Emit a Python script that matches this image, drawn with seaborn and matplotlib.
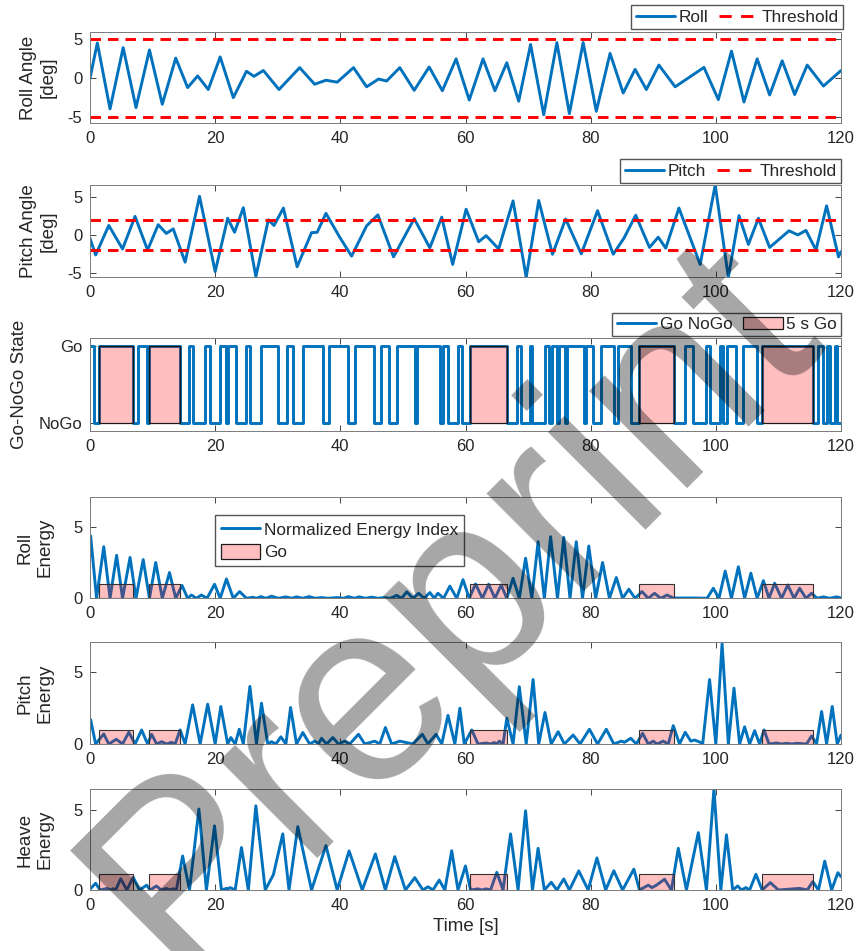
import numpy as np
import matplotlib
matplotlib.use('Agg')
import matplotlib.pyplot as plt
from matplotlib.lines import Line2D
from matplotlib.patches import Patch
import seaborn as sns

# roll / pitch angle extrema [s], [deg]
roll_t = [0, 1.17, 3.2, 5.3, 7.35, 9.5, 11.55, 13.7, 15.6, 17.2, 18.9, 20.8, 22.9, 25.0, 26.2, 27.7,
          30.2, 33.5, 35.9, 37.7, 39.5, 42.1, 44.2, 46.1, 47.4, 49.5, 51.8, 54.2, 56.3, 58.5, 60.6,
          62.8, 64.7, 66.6, 68.5, 70.4, 72.5, 74.6, 76.6, 78.8, 80.9, 83.1, 85.2, 87.1, 88.9, 90.9,
          93.5, 98.1, 100.4, 102.5, 104.5, 106.6, 108.6, 110.6, 112.6, 114.6, 117.2, 120]
roll_deg = [0, 4.55, -3.95, 3.95, -3.78, 3.65, -3.35, 2.6, -1.2, 0.3, -1.45, 2.75, -2.5, 0.9, 0.25, 1.0,
            -1.45, 1.37, -0.77, -0.25, -0.5, 1.37, -1.1, -0.1, -0.35, 1.37, -1.55, 1.45, -1.6, 2.5, -2.8,
            2.5, -1.6, 2.0, -2.95, 4.35, -4.7, 4.6, -4.55, 4.6, -4.25, 3.2, -1.9, 1.15, -1.45, 1.7,
            -1.1, 1.4, -2.75, 3.5, -3.05, 2.5, -2.15, 2.25, -2.1, 1.7, -1.0, 1.0]
roll_threshold = 5

pitch_t = [0, 0.9, 3.0, 5.2, 7.2, 9.2, 10.9, 12.2, 13.3, 15.2, 17.5, 20.0, 22.0, 23.1, 24.5,
           26.5, 28.5, 29.4, 30.9, 33.1, 35.4, 36.3, 37.7, 39.9, 41.8, 44.2, 46.0, 48.5, 51.8, 54.3,
           56.2, 57.95, 60.1, 62.1, 63.3, 65.3, 67.6, 69.7, 71.7, 73.9, 76.0, 78.5, 81.1, 83.6, 85.3,
           87.2, 89.4, 90.8, 92.0, 94.1, 97.5, 99.9, 102.0, 103.7, 105.2, 106.8, 108.6, 111.7, 113.1,
           114.4, 116.0, 117.7, 119.6, 120]
pitch_deg = [-0.45, -2.65, 1.25, -1.85, 2.45, -2.0, 1.35, 0.2, 0.8, -3.6, 5.1, -4.85, 2.2, 0.35, 3.6,
             -5.5, 2.0, 1.25, 3.55, -4.2, 0.3, 0.35, 2.85, -0.3, -2.8, 1.2, 2.65, -2.9, 2.15, -1.7,
             2.35, -3.9, 3.4, -0.9, -0.1, -1.85, 4.5, -5.6, 4.55, -2.55, 2.1, -2.5, 3.2, -2.55, -0.45,
             2.6, -1.65, -0.3, -1.75, 3.55, -3.9, 6.6, -5.6, 2.55, -1.25, 2.2, -1.65, 0.55, 0.0,
             0.6, -2.0, 3.85, -2.9, -2.2]
pitch_threshold = 2

# go / nogo switching times (state holds until next time)
state_t = [0, 0.6, 1.5, 6.8, 7.7, 9.05, 9.4, 14.4, 15.8, 16.5, 18.4, 19.1, 20.8, 21.7, 22.0, 23.4,
           25.0, 25.6, 27.4, 30.0, 31.5, 32.5, 34.1, 37.2, 38.2, 41.2, 42.3, 45.3, 46.5, 47.8, 49.1,
           51.9, 52.2, 56.0, 56.4, 57.2, 58.8, 59.5, 60.7, 66.6, 68.3, 68.8, 70.3, 70.6, 72.7, 73.4,
           73.8, 74.6, 74.9, 75.9, 76.2, 78.9, 79.3, 80.3, 81.7, 83.7, 84.4, 86.5, 87.7, 93.3, 95.0,
           96.3, 98.4, 99.0, 100.7, 101.2, 101.8, 103.2, 104.3, 106.5, 107.3, 115.6, 116.3, 117.2,
           117.7, 118.2, 119.0, 119.3, 120]
state_go = [1, 0, 1, 0, 1, 0, 1, 0, 1, 0, 1, 0, 1, 0, 1, 0,
            1, 0, 1, 0, 1, 0, 1, 0, 1, 0, 1, 0, 1, 0, 1,
            0, 1, 0, 1, 0, 1, 0, 1, 0, 1, 0, 1, 0, 1, 0,
            1, 0, 1, 0, 1, 0, 1, 0, 1, 0, 1, 0, 1, 0, 1,
            0, 1, 0, 1, 0, 1, 0, 1, 0, 1, 0, 1, 0,
            1, 0, 1, 0, 0]
go_start = np.array([1.5, 9.4, 60.7, 87.7, 107.3])
go_end = np.array([6.8, 14.4, 66.6, 93.3, 115.6])

# normalized energy index: peaks and dips
roll_e_t = [0.1, 1.05, 2.2, 3.2, 4.25, 5.2, 6.4, 7.35, 8.5, 9.5, 10.5, 11.55, 12.7, 13.7, 14.7, 15.6,
            16.2, 17.0, 17.8, 18.7, 19.9, 20.8, 21.8, 22.9, 23.9, 25.0, 26.0, 26.6, 27.3, 28.1, 29.0,
            30.1, 31.3, 32.2, 33.0, 34.0, 35.0, 36.0, 37.0, 38.0, 39.5, 40.5, 41.3, 42.2, 43.0, 44.0,
            45.0, 46.0, 47.0, 48.0, 49.0, 49.8, 50.6, 51.6, 52.5, 53.4, 54.3, 55.0, 55.6, 56.5, 57.5,
            58.6, 59.6, 60.6, 61.6, 62.7, 63.7, 64.7, 65.7, 66.6, 67.6, 68.6, 69.6, 70.6, 71.6, 72.6,
            73.6, 74.7, 75.7, 76.7, 77.7, 78.7, 79.7, 80.8, 81.9, 83.0, 84.1, 85.1, 86.1, 87.1, 88.2,
            89.2, 90.2, 91.2, 92.2, 93.2, 97.0, 98.6, 99.6, 100.5, 101.5, 102.5, 103.6, 104.6, 105.6,
            106.6, 107.6, 108.5, 109.4, 110.5, 111.5, 112.5, 113.4, 114.4, 115.3, 116.2, 117.2, 118.2,
            119.3, 120]
roll_e = [4.35, 0, 3.6, 0, 3.0, 0, 2.85, 0, 2.7, 0, 2.5, 0, 1.8, 0, 0.9, 0,
          0.23, 0, 0.23, 0, 0.98, 0, 1.35, 0, 0.47, 0, 0.07, 0, 0.12, 0, 0.15,
          0, 0.1, 0, 0.1, 0, 0.12, 0, 0.05, 0, 0.05, 0, 0.12, 0, 0.1, 0,
          0.08, 0, 0.05, 0, 0.2, 0, 0.45, 0, 0.35, 0, 0.4, 0, 0.35, 0, 0.85,
          0, 1.3, 0, 1.0, 0, 0.98, 0, 0.93, 0, 1.4, 0, 2.8, 0, 3.95, 0,
          4.3, 0, 4.25, 0, 3.95, 0, 3.65, 0, 2.5, 0, 1.45, 0, 0.63, 0, 0.47,
          0, 0.35, 0, 0.23, 0.02, 0.02, 0, 0.7, 0, 1.9, 0, 2.2, 0, 1.75,
          0, 1.23, 0, 1.05, 0, 0.93, 0, 0.7, 0, 0.35, 0, 0.1, 0,
          0.1, 0.02]

pitch_e_t = [0.1, 0.9, 2.2, 3.0, 4.2, 5.2, 6.2, 7.2, 8.25, 9.2, 9.85, 10.65, 11.45, 12.25, 13.0, 13.6,
             14.4, 15.2, 16.4, 17.6, 18.8, 20.0, 20.9, 22.0, 22.5, 23.2, 23.85, 24.5, 25.55, 26.6,
             27.4, 28.4, 29.0, 29.7, 30.5, 31.3, 32.05, 33.0, 34.0, 35.1, 35.9, 36.5, 37.0, 37.8,
             38.8, 39.7, 40.7, 41.5, 42.9, 43.9, 45.5, 46.3, 47.2, 48.2, 49.5, 51.6, 53.1, 54.0,
             55.3, 56.2, 57.2, 58.3, 59.1, 59.8, 61.0, 62.0, 63.3, 64.0, 64.6, 65.0, 65.4, 66.0,
             66.6, 67.6, 68.6, 69.7, 70.8, 71.7, 72.7, 73.7, 74.8, 75.8, 77.2, 78.3, 79.8, 81.1,
             82.5, 83.7, 84.9, 85.4, 86.4, 87.3, 88.3, 89.2, 90.0, 90.6, 91.6, 92.4, 93.2, 94.2,
             95.1, 96.0, 96.6, 97.5, 97.9, 99.0, 100.0, 101.0, 102.0, 102.9, 103.8, 104.6, 105.4,
             106.2, 107.0, 107.7, 108.5, 109.7, 110.5, 111.3, 112.1, 112.9, 114.5, 115.3, 116.1,
             116.9, 117.7, 118.6, 119.4, 120]
pitch_e = [1.7, 0, 0.7, 0, 0.33, 0, 0.82, 0, 0.98, 0, 0.68, 0, 0.16, 0, 0.12, 0,
           0.98, 0, 2.73, 0, 2.78, 0, 2.62, 0, 0.45, 0, 1.03, 0, 4.02, 0,
           2.85, 0, 0.16, 0, 0.5, 0, 2.55, 0, 0.8, 0, 0.2, 0, 0.4, 0,
           0.45, 0, 0.2, 0, 0.68, 0, 0.2, 0, 1.15, 0, 0.2, 0, 0.68, 0,
           0.68, 0, 2.0, 0, 2.5, 0, 0.98, 0, 0.07, 0, 0.1, 0, 0.2, 0,
           1.8, 0, 4.0, 0, 4.5, 0, 2.2, 0, 0.86, 0, 0.63, 0, 1.03, 0,
           1.03, 0, 0.2, 0.12, 0.4, 0, 0.75, 0, 0.2, 0, 0.2, 0, 1.28, 0,
           0.82, 0.2, 0.28, 0.12, 0, 4.5, 0, 7.0, 0, 3.9, 0, 1.2, 0,
           0.93, 0, 0.98, 0, 0.07, 0, 0.05, 0, 0.05, 0, 0.56, 0,
           2.27, 0, 2.62, 0, 0.63]

heave_e_t = [0, 0.9, 1.6, 2.7, 3.2, 3.7, 4.1, 4.9, 5.9, 6.9, 7.9, 9.05, 9.6, 10.6, 11.4, 12.2, 12.8,
             13.3, 13.8, 14.8, 15.9, 17.4, 18.6, 19.9, 21.0, 21.8, 22.1, 22.4, 23.2, 24.2, 25.3,
             26.5, 28.0, 29.3, 30.8, 31.8, 33.2, 35.4, 37.7, 39.5, 41.4, 43.5, 45.6, 47.2, 48.7,
             50.4, 51.9, 53.2, 54.0, 54.8, 55.8, 56.7, 57.8, 58.8, 60.0, 60.8, 62.0, 62.6, 63.3,
             64.0, 65.0, 66.0, 67.2, 68.4, 69.6, 70.7, 71.6, 72.6, 73.7, 74.6, 75.7, 76.6, 78.1,
             79.6, 81.0, 82.4, 83.7, 85.1, 86.9, 87.8, 89.2, 89.8, 90.5, 91.8, 92.9, 94.0, 95.3,
             97.2, 98.5, 99.7, 100.8, 101.7, 102.7, 103.5, 104.1, 104.8, 105.4, 106.4, 107.4,
             108.7, 110.0, 113.4, 114.6, 115.5, 116.4, 117.4, 118.5, 119.5, 120]
heave_e = [0.05, 0.42, 0, 0.1, 0, 0.08, 0, 0.7, 0, 0.8, 0, 0.3, 0, 0.25, 0, 0.1, 0,
           0.08, 0, 2.12, 0, 5.05, 0, 4.0, 0, 0.1, 0.08, 0.15, 0, 2.65, 0,
           5.25, 0, 0.95, 3.5, 0, 3.95, 0, 2.77, 0, 2.44, 0, 2.25, 0, 2.08,
           0, 0.77, 0, 0.2, 0, 0.62, 0, 2.45, 0, 1.5, 0, 0.07, 0, 0.07,
           0, 1.1, 0, 3.5, 0, 4.94, 0, 2.6, 0, 0.48, 0, 0.69, 0, 1.19,
           0, 2.0, 0, 1.2, 0, 1.3, 0, 0.3, 0.15, 0.3, 0.67, 0, 2.6, 0,
           3.58, 0, 6.3, 0, 3.44, 0, 0.25, 0, 0.15, 0, 0.98, 0,
           0.46, 0, 0.1, 0, 0.52, 0, 1.8, 0, 1.08, 0.83]

blue = '#0072BD'
go_face = (1, 0, 0, 0.25)
dash = (0, (3.6, 2.4))

sns.set_theme(style='ticks')
plt.rcParams['font.family'] = ['Liberation Sans', 'DejaVu Sans']
plt.rcParams['axes.unicode_minus'] = False
plt.rcParams['xtick.direction'] = 'in'
plt.rcParams['ytick.direction'] = 'in'
plt.rcParams['xtick.top'] = True
plt.rcParams['ytick.right'] = True

fig = plt.figure(figsize=(8.6, 9.51), dpi=100)
left, width = 90 / 860, 751 / 860
boxes = [(31.7, 123.3), (185, 277.3), (338.3, 431), (497.3, 598.3), (642.3, 744), (789, 890)]
axes = [fig.add_axes([left, 1 - b / 951, width, (b - t) / 951]) for t, b in boxes]

for ax in axes:
    ax.set_xlim(0, 120)
    ax.set_xticks(np.arange(0, 121, 20))
    ax.tick_params(labelsize=12, colors='#262626', length=4.5, width=0.6, pad=5.5)
    for s in ax.spines.values():
        s.set_color('#7a7a7a')
        s.set_linewidth(0.7)

leg_kw = dict(fontsize=12.4, frameon=True, fancybox=False, edgecolor='#555555', framealpha=1,
              borderpad=0.25, handlelength=2.3, handletextpad=0.2, columnspacing=0.6,
              borderaxespad=0)
line_kw = dict(color=blue, linewidth=2.1, estimator=None, sort=False, solid_joinstyle='round')

# roll angle
ax = axes[0]
sns.lineplot(x=roll_t, y=roll_deg, ax=ax, **line_kw)
for th in (roll_threshold, -roll_threshold):
    ax.axhline(th, color='red', linewidth=2.1, linestyle=dash)
ax.set_ylim(-5.8, 6.0)
ax.set_yticks([-5, 0, 5])
ax.set_ylabel('Roll Angle\n[deg]', fontsize=13.5, color='#262626')
ax.yaxis.set_label_coords(-0.044, 0.5)
h = [Line2D([], [], color=blue, lw=2.1), Line2D([], [], color='red', lw=2.1, ls=(0, (4.2, 3.2)))]
ax.legend(h, ['Roll', 'Threshold'], ncol=2, loc='lower right', bbox_to_anchor=(1.003, 1.03), **leg_kw)

# pitch angle
ax = axes[1]
sns.lineplot(x=pitch_t, y=pitch_deg, ax=ax, **line_kw)
for th in (pitch_threshold, -pitch_threshold):
    ax.axhline(th, color='red', linewidth=2.1, linestyle=dash)
ax.set_ylim(-5.6, 6.6)
ax.set_yticks([-5, 0, 5])
ax.set_ylabel('Pitch Angle\n[deg]', fontsize=13.5, color='#262626')
ax.yaxis.set_label_coords(-0.044, 0.5)
ax.legend(h, ['Pitch', 'Threshold'], ncol=2, loc='lower right', bbox_to_anchor=(1.0, 1.02), **leg_kw)

# go / nogo state
ax = axes[2]
sns.lineplot(x=state_t, y=state_go, ax=ax, drawstyle='steps-post', **line_kw)
ax.bar(go_start, 1, width=go_end - go_start, align='edge', facecolor=go_face, edgecolor='#1a1a1a',
       linewidth=0.9, zorder=3)
ax.set_ylim(-0.1, 1.1)
ax.set_yticks([0, 1])
ax.set_yticklabels(['NoGo', 'Go'])
ax.set_ylabel('Go-NoGo State', fontsize=13.5, color='#262626')
ax.yaxis.set_label_coords(-0.083, 0.5)
hp = Patch(facecolor=go_face, edgecolor='#1a1a1a', linewidth=0.9)
ax.legend([h[0], hp], ['Go NoGo', '5 s Go'], ncol=2, loc='lower right', bbox_to_anchor=(1.0, 1.02),
          **leg_kw)

# energy indices
energy = [(roll_e_t, roll_e, 'Roll\nEnergy', 7.05),
          (pitch_e_t, pitch_e, 'Pitch\nEnergy', 7.1),
          (heave_e_t, heave_e, 'Heave\nEnergy', 6.3)]
for ax, (et, ev, lab, top) in zip(axes[3:], energy):
    sns.lineplot(x=et, y=ev, ax=ax, **line_kw)
    ax.bar(go_start, 1, width=go_end - go_start, align='edge', facecolor=go_face,
           edgecolor='#333333', linewidth=0.8, zorder=3)
    ax.set_ylim(0, top)
    ax.set_yticks([0, 5])
    ax.set_ylabel(lab, fontsize=13.5, color='#262626')
    ax.yaxis.set_label_coords(-0.049, 0.5)

kw4 = dict(leg_kw, borderpad=0.35)
axes[3].legend([h[0], hp], ['Normalized Energy Index', 'Go'], loc='upper left',
               bbox_to_anchor=(0.166, 0.825), labelspacing=0.35, handleheight=1.0, **kw4)
axes[5].set_xlabel('Time [s]', fontsize=13.5, color='#262626')

fig.text(0.525, 0.362, 'Preprint', rotation=45, rotation_mode='anchor', ha='center', va='center',
         fontsize=188, color='black', alpha=0.35)

fig.savefig('out.png', dpi=100)
